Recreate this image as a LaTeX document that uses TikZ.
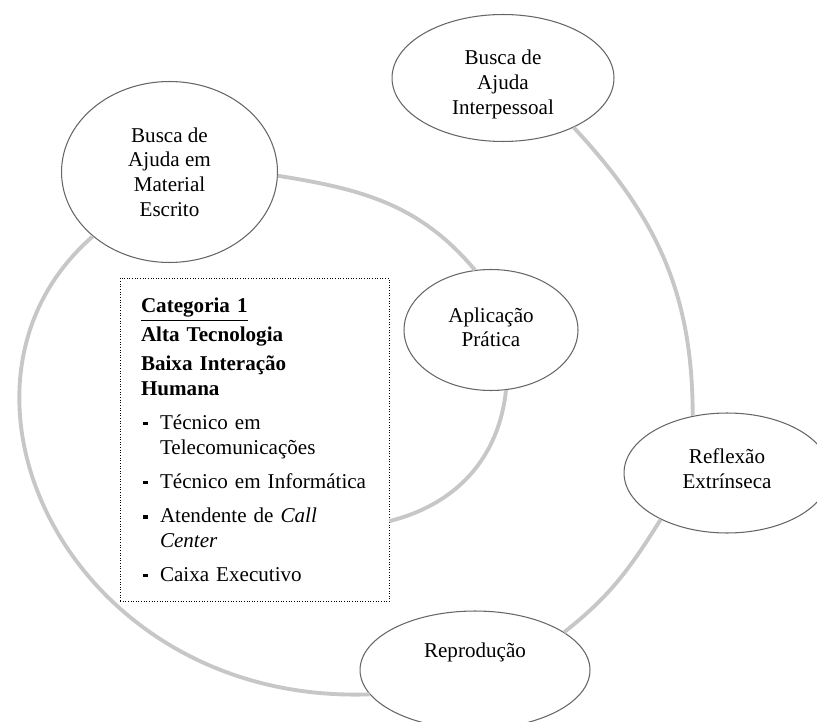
\documentclass[tikz,border=0pt]{standalone}
\usepackage{fontspec}
\setmainfont{Liberation Serif}
\usetikzlibrary{shapes.geometric}
\tikzset{
  phase/.style={ellipse, draw=black!60, line width=0.6pt, fill=white, align=center, inner sep=0pt, font=\fontsize{12}{14}\selectfont},
  spiral/.style={draw=black!22, line width=2.2pt},
  catbox/.style={draw, densely dotted, line width=0.5pt, text width=4.54cm, inner xsep=0.42cm, inner ysep=0.4cm, font=\fontsize{12}{14}\selectfont}
}
\def\catitem#1{\hangindent=0.38cm\hangafter=1\noindent\makebox[0.38cm][l]{\hspace{1pt}\rule[0.2em]{0.25em}{0.17em}}#1\par}

\begin{document}
\begin{tikzpicture}[x=0.02cm,y=-0.02cm]
		%%%%% START %%%%%
		\useasboundingbox (0,0) rectangle (817,722);
		\clip (0,0) rectangle (817,722);
		
		\node[phase, minimum width=4.44cm, minimum height=2.54cm] (inter) at (503,78) {\rule{0pt}{15.7pt}Busca de\\Ajuda\\Interpessoal};
		\node[phase, minimum width=4.32cm, minimum height=3.62cm] (mat) at (169.5,172) {Busca de\\Ajuda em\\Material\\Escrito};
		\node[phase, minimum width=3.48cm, minimum height=2.42cm] (apl) at (491,330) {Aplicação\\Prática\rule[-3.4pt]{0pt}{3.4pt}};
		\node[phase, minimum width=4.12cm, minimum height=2.4cm] (refl) at (727,473) {Reflexão\\Extrínseca\rule[-5.2pt]{0pt}{5.2pt}};
		\node[phase, minimum width=4.6cm, minimum height=2.36cm, text depth=22.8pt] (repr) at (475,670) {Reprodução};
		
		\node[catbox] (cat) at (254.5,440) {\raggedright\setlength{\parskip}{2.5pt}%
			\textbf{\underline{Categoria 1}}\par
			\textbf{Alta Tecnologia}\par
			\textbf{Baixa Interação}\newline\textbf{Humana}\par
			\setlength{\parskip}{5.5pt}%
			\catitem{Técnico em\newline Telecomunicações}
			\catitem{Técnico em Informática}
			\catitem{Atendente de \textit{Call}\newline\textit{Center}}
			\catitem{Caixa Executivo}};
		
		\draw[spiral] (inter.-35) to[out=-47,in=90] (refl.121);
		\draw[spiral] (refl.215) to[out=-122,in=38] (repr.23);
		\draw[spiral] (repr.193) to[out=182,in=221,out distance=6cm,in distance=4.6cm] (mat.220);
		\draw[spiral] (mat.-2) to[out=-9,in=130] (apl.105);
		\draw[spiral] (apl.-76) to[out=-96,in=14] (cat.-31);
		
		%%%%% END %%%%%
\end{tikzpicture}
\end{document}
